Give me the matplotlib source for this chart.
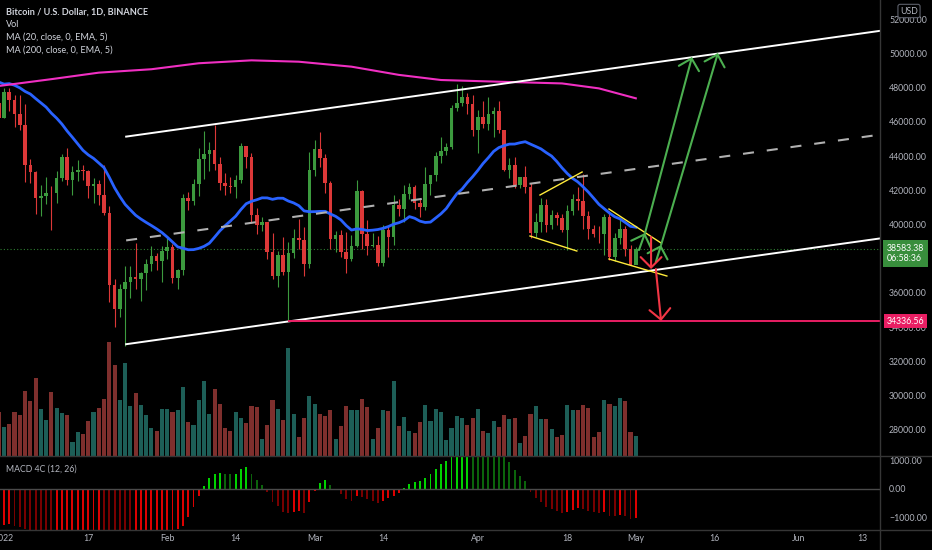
import numpy as np
import pandas as pd
from matplotlib import pyplot as plt
from matplotlib import transforms
from matplotlib.lines import Line2D
from matplotlib.ticker import FuncFormatter

plt.rcParams["font.family"] = ["Lato", "DejaVu Sans"]

# daily candles, 2021-12-31 .. 2022-05-01
opens = [47120, 46216, 47722, 47286, 46446, 45832, 43451, 43082, 41566, 41679, 41864,
         41822, 42735, 43949, 42591, 43099, 43177, 43113, 42250, 42375, 41744, 40680,
         36445, 35071, 36244, 36660, 36958, 36809, 37160, 37716, 38166, 37881, 38466,
         38691, 36896, 37311, 41574, 41382, 42380, 43840, 44118, 44338, 43565, 42407,
         42244, 42197, 42586, 44575, 43961, 40538, 40000, 40126, 38386, 37008, 38230,
         37250, 38328, 39219, 39116, 37700, 43160, 44421, 43892, 42454, 39148, 39397,
         38420, 37988, 38730, 41941, 39422, 38729, 38807, 37777, 39671, 39280, 41114,
         40917, 41757, 42201, 41262, 41002, 42364, 42882, 43991, 44313, 44511, 46827,
         47128, 47465, 47062, 45538, 46281, 45868, 46453, 46622, 45555, 43206, 43503,
         42287, 42782, 42207, 39521, 40127, 41148, 39942, 40552, 40378, 39678, 40801,
         41493, 41358, 40480, 39709, 39441, 39430, 40427, 38112, 39235, 39742, 38596,
         37630]
highs = [48548, 47954, 47990, 47570, 47557, 47070, 43816, 43145, 42300, 42786, 42248,
         43100, 44135, 44500, 43448, 43800, 43476, 43176, 42691, 42579, 43505, 41100,
         36835, 36499, 37550, 37545, 38919, 37234, 38000, 38720, 38359, 38744, 39265,
         38855, 37387, 41772, 41913, 42656, 44500, 45492, 44800, 45821, 43920, 43000,
         42760, 42876, 44751, 44583, 44164, 40959, 40444, 40126, 39494, 38429, 39249,
         38968, 39727, 40300, 39875, 44225, 44950, 45400, 44102, 42527, 39613, 39693,
         39547, 39362, 42594, 42039, 40236, 39486, 39310, 39947, 39887, 41718, 41478,
         42325, 42400, 42296, 41544, 43361, 42893, 44220, 45094, 44792, 46999, 48190,
         48096, 47700, 47600, 46720, 47213, 47444, 46888, 47200, 45555, 43900, 43970,
         42800, 43410, 42414, 40700, 41561, 41500, 40870, 40709, 40595, 41116, 41760,
         42199, 42976, 40795, 39980, 39940, 40617, 40797, 39474, 40372, 39925, 38795,
         38675]
lows = [45678, 46208, 46654, 45696, 45500, 42500, 42430, 40610, 40501, 41200, 39650,
        41268, 42528, 42311, 41725, 42565, 42581, 41540, 41250, 41138, 40553, 35440,
        34008, 34601, 32917, 35701, 36234, 35507, 36155, 37268, 37351, 36632, 38000,
        36586, 36250, 37026, 40843, 41116, 41646, 42666, 43117, 43188, 42000, 41748,
        41870, 41570, 42428, 43310, 40073, 39450, 39639, 38000, 36800, 36350, 37036,
        34336.56, 38014, 38573, 37000, 37450, 42809, 43334, 41832, 38550, 38407, 38088,
        37155, 37867, 38656, 38539, 38224, 38660, 37578, 37555, 38098, 38828, 40500,
        40135, 41499, 40911, 40467, 40875, 41751, 42560, 43579, 44071, 44422, 46664,
        46950, 46439, 45200, 44200, 45620, 45530, 45118, 45353, 43121, 42727, 42107,
        42125, 41868, 39200, 39254, 39588, 39551, 39766, 39991, 39546, 38536, 40571,
        40820, 39751, 39177, 39285, 38929, 38200, 37950, 37881, 38881, 38175, 37750,
        37700]
closes = [46216, 47722, 47286, 46446, 45832, 43451, 43082, 41566, 41679, 41864, 41822,
          42735, 43949, 42591, 43099, 43177, 43113, 42250, 42375, 41744, 40680, 36445,
          35071, 36244, 36660, 36958, 36809, 37160, 37716, 38166, 37881, 38466, 38691,
          36896, 37311, 41574, 41382, 42380, 43840, 44118, 44338, 43565, 42407, 42244,
          42197, 42586, 44575, 43961, 40538, 40000, 40126, 38386, 37008, 38230, 37250,
          38328, 39219, 39116, 37700, 43160, 44421, 43892, 42454, 39148, 39397, 38420,
          37988, 38730, 41941, 39422, 38729, 38807, 37777, 39671, 39280, 41114, 40917,
          41757, 42201, 41262, 41002, 42364, 42882, 43991, 44313, 44511, 46827, 47128,
          47465, 47062, 45538, 46281, 45868, 46453, 46622, 45555, 43206, 43503, 42287,
          42782, 42207, 39521, 40127, 41148, 39942, 40552, 40378, 39678, 40801, 41493,
          41358, 40480, 39709, 39441, 39430, 40427, 38112, 39235, 39742, 38596, 37630,
          38583.38]
volumes = [44, 29, 32, 44, 41, 65, 55, 78, 47, 36, 64, 48, 43, 41, 14, 24, 22, 35, 44,
           48, 57, 114, 91, 56, 93, 50, 63, 51, 41, 28, 25, 47, 47, 44, 46, 69, 34, 31,
           56, 75, 42, 67, 52, 28, 25, 44, 38, 33, 50, 49, 17, 31, 56, 47, 36, 108, 42,
           19, 38, 60, 52, 42, 40, 46, 17, 30, 50, 46, 46, 57, 49, 17, 28, 46, 45, 75,
           30, 39, 25, 23, 34, 51, 35, 47, 44, 16, 28, 40, 38, 31, 38, 47, 25, 23, 35,
           29, 41, 37, 38, 13, 20, 42, 50, 37, 37, 27, 19, 21, 51, 46, 46, 51, 48, 19,
           24, 56, 52, 50, 58, 55, 24, 20]
macd = [-1320, -1275, -1250, -1300, -1345, -1420, -1500, -1580, -1650, -1700, -1740,
        -1720, -1690, -1650, -1615, -1585, -1560, -1540, -1525, -1515, -1560, -1700,
        -1900, -2050, -2150, -2200, -2150, -2080, -2000, -1900, -1800, -1700, -1600,
        -1500, -1420, -1300, -980, -630, -245, 95, 370, 505, 535, 530, 500, 515, 690,
        750, 525, 290, 130, -130, -455, -610, -805, -840, -805, -770, -845, -470, -70,
        205, 300, 115, -20, -195, -360, -435, -255, -290, -345, -420, -495, -440, -330,
        -255, -145, 35, 180, 240, 260, 370, 505, 680, 855, 985, 1125, 1250, 1330, 1360,
        1300, 1280, 1250, 1220, 1200, 1165, 1125, 935, 655, 455, 270, -105, -340, -455,
        -630, -715, -785, -865, -830, -750, -690, -725, -785, -830, -865, -805, -960,
        -970, -925, -950, -1060, -1045]
# closes 2021-12-12 .. 12-30, needed for the 20 day MA
dec_closes = [50098, 46738, 48340, 48865, 47636, 46131, 46835, 46682, 46915, 48897,
              48588, 50839, 50820, 50400, 50775, 50702, 47543, 46464, 47120]
# 200 day MA (day, value)
ma200_days = [-1, 9, 18, 28, 37, 47, 56, 66, 75, 83, 94, 106, 113, 120]
ma200_vals = [48100, 48500, 48880, 49080, 49430, 49600, 49520, 49230, 48750, 48450,
              48350, 48250, 47960, 47380]

# drawings (day, price)
chan_day0 = 23.2
chan_low0 = 33000
chan_high0 = 45140
chan_slope = 43.2
support_day0 = 54
support = 34336.56
yellow_lines = [((101.8, 41725), (109.8, 43070)), ((99.9, 39327), (108.8, 38450)),
                ((114.9, 40906), (124.8, 38918)), ((114.9, 37982), (125.9, 36988))]
green_arrows = [((120.6, 38509), (121.75, 39503)), ((121.75, 39503), (130.67, 49795)),
                ((123.8, 37807), (124.8, 38801)), ((124.8, 38801), (135.6, 50029))]
red_arrows = [((122.9, 39269), (122.9, 37398)), ((123.8, 37398), (124.8, 34357))]

# 38000 sits under the last-price label, so it is left out like on the chart
price_ticks = [28000, 30000, 32000, 34000, 36000, 40000, 42000, 44000, 46000, 48000,
               50000, 52000]
tick_dates = ["2022-01-01", "2022-01-17", "2022-02-01", "2022-02-14", "2022-03-01",
              "2022-03-14", "2022-04-01", "2022-04-18", "2022-05-01", "2022-05-16",
              "2022-06-01", "2022-06-13"]
tick_labels = ["2022", "17", "Feb", "14", "Mar", "14", "Apr", "18", "May", "16", "Jun", "13"]

dates = pd.date_range("2021-12-31", periods=len(closes))
t0 = pd.Timestamp("2022-01-01")
x = np.asarray((dates - t0).days, dtype=float)
o, h, l, c = map(np.asarray, (opens, highs, lows, closes))
macd = np.asarray(macd, dtype=float)

sma20 = pd.Series(dec_closes + closes).rolling(20).mean().to_numpy()[len(dec_closes):]

bg = "#000000"
txt = "#b2b5be"
col_up, col_dn = "#3c9a3e", "#dc3838"
fs = 6.3

fig = plt.figure(figsize=(9.32, 5.5), dpi=100)
fig.patch.set_facecolor(bg)
W, H = 932, 550
rect_price = [0, 94 / H, 880 / W, 456 / H]
rect_macd = [0, 20 / H, 880 / W, 74 / H]

ax_vol = fig.add_axes(rect_price)
ax = fig.add_axes(rect_price, sharex=ax_vol)
axm = fig.add_axes(rect_macd, sharex=ax_vol)

xlim = (-0.76, 166.38)
ax_vol.set_xlim(*xlim)
ax_vol.set_facecolor(bg)
ax_vol.set_ylim(0, 456)
ax_vol.axis("off")
ax.patch.set_visible(False)
ax.set_ylim(26462, 53129)

# volume
rising = c >= o
ax_vol.bar(x, volumes, width=0.78, color=np.where(rising, "#1d5e57", "#7e2f2d"))

# candles
cols = np.where(rising, col_up, col_dn)
ax.vlines(x, l, h, color=cols, lw=0.8, zorder=3)
ax.bar(x, np.maximum(np.abs(c - o), 40), bottom=np.minimum(o, c), width=0.68,
       color=cols, zorder=3)

# moving averages
ax.plot(x, sma20, color="#2962ff", lw=2.0, zorder=4)
ax.plot(ma200_days, ma200_vals, color="#f02fc2", lw=1.5, zorder=4)

# channel
cx = np.array([chan_day0, xlim[1] + 2])
upper = chan_high0 + chan_slope * (cx - chan_day0)
lower = chan_low0 + chan_slope * (cx - chan_day0)
ax.plot(cx, upper, color="white", lw=1.4, zorder=5)
ax.plot(cx, lower, color="white", lw=1.4, zorder=5)
ax.plot(cx, (upper + lower) / 2, color="#b0b0b0", lw=1.5, ls=(0, (5.3, 6.2)), zorder=5)
ax.hlines(support, support_day0, xlim[1] + 2, color="#e91e63", lw=1.4, zorder=5)
ax.axhline(c[-1], color="#2e7d32", lw=0.8, ls=(0, (1, 2)), zorder=2)

for (x0, y0), (x1, y1) in yellow_lines:
    ax.plot([x0, x1], [y0, y1], color="#ffeb3b", lw=1.0, zorder=6)
arrow = "->,head_length=0.75,head_width=0.75"
for start, end in green_arrows:
    ax.annotate("", xy=end, xytext=start, zorder=7,
                arrowprops=dict(arrowstyle=arrow, color="#4caf50", lw=1.5,
                                shrinkA=0, shrinkB=0))
for start, end in red_arrows:
    ax.annotate("", xy=end, xytext=start, zorder=7,
                arrowprops=dict(arrowstyle=arrow, color="#f23645", lw=1.5,
                                shrinkA=0, shrinkB=0))

# price scale
ax.set_yticks(price_ticks)
ax.yaxis.tick_right()
ax.yaxis.set_major_formatter(FuncFormatter(lambda v, p: f"{v:.2f}"))
ax.tick_params(axis="y", length=0, pad=6.5, labelsize=fs, labelcolor=txt)
ax.tick_params(axis="x", length=0, labelbottom=False)
for s in ax.spines.values():
    s.set_visible(False)

# MACD 4C
falling = np.r_[False, np.diff(macd) < 0]
grow = np.r_[False, np.diff(macd) > 0]
mcols = np.where(macd > 0, np.where(grow, "#00d200", "#0b640b"),
                 np.where(falling, "#780000", "#dd0000"))
axm.set_facecolor(bg)
axm.bar(x, macd, width=0.36, color=mcols)
axm.axhline(0, color="#4a4a4a", lw=1)
axm.set_ylim(-1449, 1147)
axm.set_yticks([-1000, 0, 1000])
axm.yaxis.tick_right()
axm.yaxis.set_major_formatter(FuncFormatter(lambda v, p: f"{v:.2f}".replace("-", "\u2212")))
axm.tick_params(axis="y", length=0, pad=6.5, labelsize=fs, labelcolor=txt)
axm.set_xticks((pd.to_datetime(tick_dates) - t0).days)
axm.set_xticklabels(tick_labels)
axm.tick_params(axis="x", length=0, pad=3, labelsize=fs, labelcolor=txt)
for s in axm.spines.values():
    s.set_visible(False)
axm.text(6 / 880, 0.82, "MACD 4C (12, 26)", transform=axm.transAxes, color=txt,
         fontsize=fs, va="center")

# pane separators
sep = "#363636"
for yy in (456, 530):
    fig.add_artist(Line2D([0, 1], [1 - yy / H] * 2, color=sep, lw=1, transform=fig.transFigure))
fig.add_artist(Line2D([880 / W] * 2, [0, 1], color=sep, lw=1, transform=fig.transFigure))

# legend
legend = ["Bitcoin / U.S. Dollar, 1D, BINANCE", "Vol", "MA (20, close, 0, EMA, 5)",
          "MA (200, close, 0, EMA, 5)"]
for i, s in enumerate(legend):
    fig.text(6 / W, 1 - (12 + 12.7 * i) / H, s, color="#d1d4dc", fontsize=fs + 0.3,
             va="center", fontweight="bold" if i == 0 else "normal")

# price labels on the scale
tr = transforms.blended_transform_factory(fig.transFigure, ax.transData)
shift = transforms.ScaledTranslation(0, -0.05, fig.dpi_scale_trans)
fig.text(887 / W, c[-1], f"{c[-1]:.2f}\n06:58:36", transform=tr + shift, color="white",
         fontsize=fs, va="center", linespacing=1.15, zorder=10,
         bbox=dict(boxstyle="square,pad=0.45", fc="#388e3c", ec="none"))
fig.text(887 / W, support, f"{support:.2f}", transform=tr, color="white", fontsize=fs,
         va="center", zorder=10,
         bbox=dict(boxstyle="square,pad=0.3", fc="#e91e63", ec="none"))
fig.text(909 / W, 1 - 11 / H, "USD", color=txt, fontsize=fs, ha="center", va="center",
         zorder=10, bbox=dict(boxstyle="round,pad=0.25", fc=bg, ec="#5d606b", lw=0.8))

plt.savefig("out.png", dpi=100, facecolor=bg)
